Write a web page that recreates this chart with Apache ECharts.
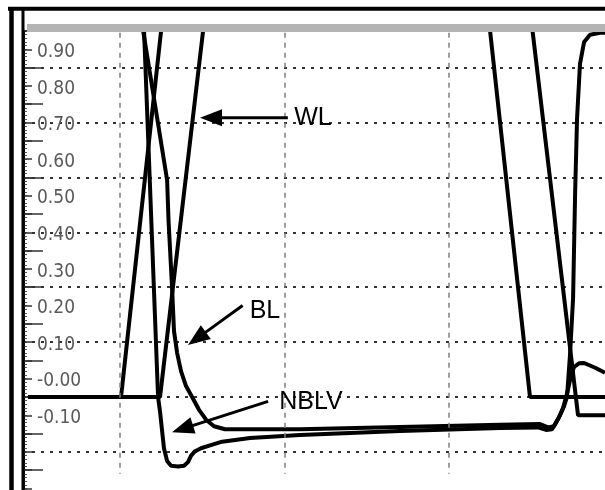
<!DOCTYPE html>
<html><head><meta charset="utf-8">
<script src="https://cdn.jsdelivr.net/npm/echarts@6/dist/echarts.min.js"></script>
<style>html,body{margin:0;padding:0;background:#fff}#c{width:605px;height:490px}</style>
</head><body><div id="c"></div>
<script>
// ---- data (x in time units, 10 per grid division; y in volts) ----
const S4 = [[4.41,0],[10.06,0],[12.98,1.2],[32.01,1.2],[34.92,0],[39.48,0]];
const WL = [[4.41,0],[12.43,0],[15.57,1.2],[34.55,1.2],[37.84,-0.05],[39.48,-0.05]];
const BL = [[4.41,1.2],[10.69,1.2],[12.86,0.593],[12.95,0.48],[13.16,0.30],[13.28,0.18],[13.47,0.12],
  [13.71,0.07],[14.01,0.03],[14.38,0.0],[14.80,-0.035],[15.23,-0.062],[15.71,-0.08],[16.38,-0.088],
  [20.94,-0.088],[27.02,-0.082],[33.10,-0.076],[35.53,-0.074],[36.02,-0.083],[36.38,-0.08],
  [36.75,-0.05],[36.99,-0.025],[37.17,0.0],[37.36,0.12],[37.54,0.27],[37.66,0.55],[37.78,0.76],
  [37.96,0.91],[38.21,0.97],[38.57,0.99],[39.18,0.995],[39.48,0.995]];
const NBLV = [[4.41,1.2],[11.29,1.2],[12.31,0],[12.43,-0.04],[12.55,-0.09],[12.67,-0.14],[12.86,-0.175],
  [13.10,-0.188],[13.53,-0.19],[13.89,-0.188],[14.13,-0.178],[14.32,-0.16],[14.56,-0.148],[14.92,-0.14],
  [15.47,-0.132],[16.20,-0.122],[17.90,-0.112],[20.94,-0.104],[27.02,-0.093],[33.10,-0.085],
  [35.41,-0.083],[35.90,-0.09],[36.26,-0.088],[36.63,-0.06],[36.93,-0.03],[37.23,0.02],[37.42,0.06],
  [37.60,0.082],[37.90,0.092],[38.21,0.093],[38.88,0.08],[39.48,0.066]];

const xGridValues = [10, 20, 30];
const yLabelValues = [-0.1, 0, 0.1, 0.2, 0.3, 0.4, 0.5, 0.6, 0.7, 0.8, 0.9];
const yLabelTexts  = ['-0.10','-0.00','0.10','0.20','0.30','0.40','0.50','0.60','0.70','0.80','0.90'];

// annotations: label, arrow tail, arrow tip, label centre (data coords)
const annotLabels = ['WL', 'BL', 'NBLV'];
const annotTail = [[20.2,0.763],[17.45,0.25],[19.0,-0.012]];
const annotTip  = [[14.86,0.763],[14.13,0.142],[13.16,-0.096]];
const annotText = [[21.73,0.762],[18.81,0.235],[21.61,-0.014]];

const chart = echarts.init(document.getElementById('c'), null, {renderer:'canvas'});
const traceStyle = {color:'#000', width:4};
function trace(name, data){
  return {name, type:'line', data, symbol:'none', showSymbol:false, smooth:false, clip:true,
    lineStyle:traceStyle, itemStyle:{color:'#000'}, emphasis:{disabled:true}, z:3};
}
const labelFont = '"Liberation Sans Narrow","DejaVu Sans Condensed","Liberation Sans",sans-serif';

chart.setOption({
  animation:false,
  backgroundColor:'#fff',
  grid:{left:23, top:31, width:582, height:475.8, outerBoundsMode:'none', containLabel:false},
  xAxis:{type:'value', min:4.10, max:39.48,
    axisLine:{show:false}, axisTick:{show:false}, axisLabel:{show:false}, splitLine:{show:false}},
  yAxis:[
    {type:'value', min:-0.3, max:1.0, interval:0.1, position:'left',
      axisLine:{show:true, onZero:false, lineStyle:{color:'#000', width:3}},
      axisTick:{show:true, inside:true, length:20, lineStyle:{color:'#333', width:1.5}},
      minorTick:{show:true, splitNumber:10, length:4, lineStyle:{color:'#555', width:1}},
      axisLabel:{show:true, inside:true, margin:14, color:'#5a5a5a', fontSize:19, fontFamily:labelFont,
        align:'left', verticalAlign:'bottom', padding:[0,0,6,0],
        formatter:function(v){
          for (let i=0;i<yLabelValues.length;i++){ if (Math.abs(v-yLabelValues[i])<1e-6) return yLabelTexts[i]; }
          return '';
        }},
      splitLine:{show:false}, minorSplitLine:{show:false}},
    {type:'value', min:-0.3, max:1.0, interval:0.15, position:'left',
      axisLine:{show:false}, axisTick:{show:false}, axisLabel:{show:false},
      splitLine:{show:true, lineStyle:{color:'#333', width:2, type:[3,6]}}},
    {type:'value', min:-0.3, max:1.0, interval:0.05, position:'left',
      axisLine:{show:false}, axisLabel:{show:false}, splitLine:{show:false},
      axisTick:{show:true, inside:true, length:9, lineStyle:{color:'#333', width:1.5}}}
  ],
  series:[
    {type:'line', data:[], z:1, silent:true,
      markLine:{silent:true, symbol:['none','none'], label:{show:false}, animation:false,
        lineStyle:{type:[5,5], color:'#808080', width:1.5},
        emphasis:{disabled:true},
        data: xGridValues.map(v => [{coord:[v,0.995]},{coord:[v,-0.21]}])}},
    trace('S4', S4),
    trace('WL', WL),
    trace('BL', BL),
    trace('NBLV', NBLV),
    {type:'custom', name:'annotations', clip:false, z:5, silent:true,
      data: annotLabels.map((_,i)=>[annotTail[i][0],annotTail[i][1],annotTip[i][0],annotTip[i][1],annotText[i][0],annotText[i][1]]),
      encode:{x:[0,2,4], y:[1,3,5]},
      renderItem:function(params, api){
        const a = api.coord([api.value(0), api.value(1)]);
        const b = api.coord([api.value(2), api.value(3)]);
        const t = api.coord([api.value(4), api.value(5)]);
        const dx=b[0]-a[0], dy=b[1]-a[1], L=Math.hypot(dx,dy), ux=dx/L, uy=dy/L;
        const hl=22, hw=8.5;
        const bx=b[0]-ux*hl, by=b[1]-uy*hl;
        return {type:'group', children:[
          {type:'line', shape:{x1:a[0],y1:a[1],x2:bx+ux*3,y2:by+uy*3}, style:{stroke:'#000', lineWidth:3}},
          {type:'polygon', shape:{points:[[b[0],b[1]],[bx-uy*hw,by+ux*hw],[bx+uy*hw,by-ux*hw]]}, style:{fill:'#000'}},
          {type:'text', x:t[0], y:t[1], style:{text:annotLabels[params.dataIndex], fill:'#000', fontSize:25,
            fontFamily:'"Liberation Sans",Arial,sans-serif', align:'center', verticalAlign:'middle'}}
        ]};
      }}
  ],
  graphic:[
    {type:'rect', z:100, shape:{x:27, y:24, width:578, height:8}, style:{fill:'#b4b4b4'}},
    {type:'line', z:100, shape:{x1:8, y1:8.8, x2:605, y2:8.8}, style:{stroke:'#000', lineWidth:4}},
    {type:'line', z:100, shape:{x1:11.5, y1:7, x2:11.5, y2:490}, style:{stroke:'#000', lineWidth:4.5}},
    {type:'line', z:100, shape:{x1:23, y1:7, x2:23, y2:490}, style:{stroke:'#000', lineWidth:3}}
  ]
});
</script>
</body></html>
